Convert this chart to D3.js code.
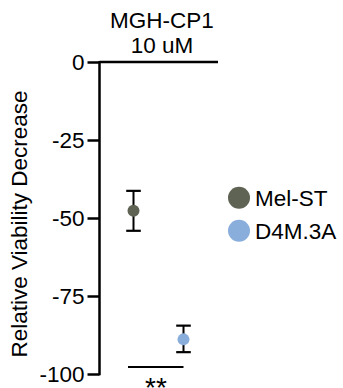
<!DOCTYPE html>
<html>
<head>
<meta charset="utf-8">
<script src="https://cdn.jsdelivr.net/npm/d3@7"></script>
<style>
  html, body { margin: 0; padding: 0; background: #fff; }
  svg { display: block; }
  text { font-family: "Liberation Sans", Arial, sans-serif; fill: #000; }
</style>
</head>
<body>
<svg id="chart" width="343" height="388"></svg>
<script>
const categories = ["Mel-ST", "D4M.3A"];
const means = [-47.7, -88.9];
const errLow = [-54.1, -93.0];
const errHigh = [-41.3, -84.5];
const colors = ["#5e6353", "#8aaedc"];
const yTicks = [0, -25, -50, -75, -100];
const titleLines = ["MGH-CP1", "10 uM"];
const yLabel = "Relative Viability Decrease";
const sigLabel = "**";

const svg = d3.select("#chart");
const fs = 22.5;

const y = d3.scaleLinear().domain([0, -100]).range([62, 374]);
const x = d3.scalePoint().domain(categories).range([133.5, 183.5]);
const axisX = 99.5;

// Y axis
const yAxis = d3.axisLeft(y).tickValues(yTicks).tickSize(12).tickSizeOuter(0).tickPadding(3)
  .tickFormat(d => String(d));
const gA = svg.append("g").attr("transform", `translate(${axisX},0)`).call(yAxis);
gA.select(".domain").attr("stroke", "#000").attr("stroke-width", 2.5)
  .attr("d", `M0,${y(0) - 1}V${y(-100) + 1.2}`);
gA.selectAll(".tick line").attr("stroke", "#000").attr("stroke-width", 2.5);
gA.selectAll(".tick text").style("font-size", fs + "px").attr("font-family", "Liberation Sans, Arial, sans-serif").attr("fill", "#000");

// zero line across
svg.append("line").attr("x1", axisX).attr("x2", 218).attr("y1", y(0)).attr("y2", y(0))
  .attr("stroke", "#000").attr("stroke-width", 2.5);

// Title
svg.selectAll("text.title").data(titleLines).join("text").attr("class", "title")
  .attr("x", 162).attr("y", (d, i) => 28 + i * 25).attr("text-anchor", "middle")
  .style("font-size", fs + "px").text(d => d);

// Y label
svg.append("text").attr("transform", "translate(27,224) rotate(-90)")
  .attr("text-anchor", "middle").style("font-size", fs + "px").text(yLabel);

// Error bars
const capW = 7.3;
categories.forEach((c, i) => {
  const cx = x(c);
  const g = svg.append("g");
  g.append("line").attr("x1", cx).attr("x2", cx).attr("y1", y(errHigh[i])).attr("y2", y(errLow[i]))
    .attr("stroke", "#000").attr("stroke-width", 2);
  [errHigh[i], errLow[i]].forEach(v => {
    g.append("line").attr("x1", cx - capW).attr("x2", cx + capW).attr("y1", y(v)).attr("y2", y(v))
      .attr("stroke", "#000").attr("stroke-width", 2.2);
  });
  g.append("circle").attr("cx", cx).attr("cy", y(means[i])).attr("r", 6).attr("fill", colors[i]);
});

// Significance
svg.append("line").attr("x1", 128).attr("x2", x(categories[1])).attr("y1", 367).attr("y2", 367)
  .attr("stroke", "#000").attr("stroke-width", 2.2);
svg.append("text").attr("x", 156).attr("y", 397).attr("text-anchor", "middle")
  .style("font-size", "28px").text(sigLabel);

// Legend
categories.forEach((c, i) => {
  const ly = 197.7 + i * 33;
  svg.append("circle").attr("cx", 239).attr("cy", ly).attr("r", 11).attr("fill", colors[i]);
  svg.append("text").attr("x", 255).attr("y", ly + 7.9).style("font-size", fs + "px").text(c);
});
</script>
</body>
</html>
